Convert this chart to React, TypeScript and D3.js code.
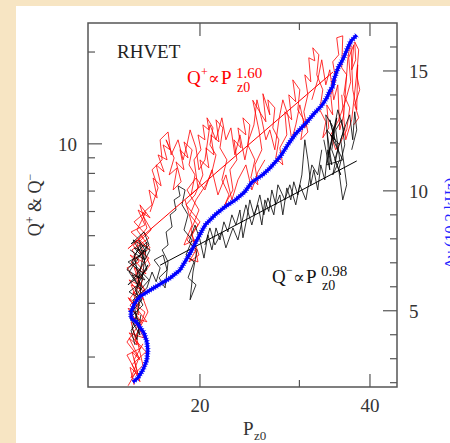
import React from "react";
import * as d3 from "d3";

// Q+ trajectory (P_z0, Q+)
const redPts: [number, number][] = [
  [15.29, 1.62], [15.04, 1.85], [15.54, 1.75], [15.16, 2.08], [15.66, 1.96], [14.98, 2.31], [15.47, 2.19],
  [15.1, 2.61], [15.79, 2.45], [14.92, 2.89], [15.6, 2.75], [15.23, 3.27], [15.92, 3.08], [14.98, 3.58],
  [15.72, 3.42], [15.29, 3.92], [16.05, 3.75], [15.04, 4.32], [15.85, 4.1], [15.41, 4.84], [16.18, 4.56],
  [15.1, 5.14], [15.98, 5.42], [15.54, 6.07], [16.32, 5.72], [15.66, 6.31], [16.11, 5.3], [15.23, 4.63],
  [16.25, 4.22], [15.35, 3.72], [15.98, 3.32], [15.04, 2.96], [15.72, 2.61], [14.85, 2.24], [15.6, 1.99],
  [15.1, 1.71], [15.85, 1.88], [15.41, 2.36], [16.18, 2.81], [15.47, 3.53], [16.32, 4.01], [15.6, 4.77],
  [16.39, 5.22], [15.79, 5.89],
  [16.45, 6.31], [16.25, 7.06], [16.8, 6.65], [16.52, 7.73], [17.07, 7.28], [16.73, 8.53], [17.28, 8.09],
  [16.86, 9.2], [17.49, 8.86], [17.21, 9.92], [17.71, 9.56], [17.42, 10.31], [18.0, 8.99], [17.64, 7.91],
  [18.22, 8.34], [17.93, 7.06], [18.52, 7.51], [18.14, 8.73], [18.74, 8.22], [18.44, 9.56], [19.05, 8.99],
  [18.74, 10.15], [19.37, 9.56], [19.13, 8.53], [19.6, 7.91], [19.29, 6.8], [19.84, 7.17], [19.52, 8.86],
  [20.08, 9.56], [19.84, 10.7], [20.41, 10.31], [20.24, 11.54], [20.74, 11.11], [20.58, 12.17], [21.09, 11.28],
  [20.83, 9.92], [21.35, 9.2], [21.0, 8.09],
  [20.49, 7.34], [19.68, 6.55], [19.21, 5.85], [19.84, 5.42], [18.97, 4.84], [19.68, 4.49], [19.13, 4.1],
  [19.92, 4.32], [19.37, 5.03], [20.0, 5.55], [18.89, 6.31], [19.6, 6.8],
  [20.24, 7.91], [20.0, 8.86], [20.74, 8.34], [20.49, 9.7], [21.17, 9.2], [20.91, 10.7], [21.61, 10.15],
  [21.35, 11.99], [21.96, 11.28], [21.7, 9.7], [22.32, 8.86], [21.87, 7.62], [22.51, 6.8], [22.14, 6.31],
  [22.88, 7.06], [22.6, 8.22], [23.25, 8.86], [22.97, 10.31], [23.64, 9.7], [23.35, 11.28], [24.12, 10.7],
  [23.83, 12.17], [24.51, 11.54], [24.31, 9.92], [25.02, 8.86], [24.61, 7.73], [25.33, 7.34], [25.02, 8.53],
  [25.74, 9.56], [25.43, 11.11], [24.8, 13.9], [25.6, 12.6], [26.17, 11.81], [25.85, 14.6], [26.59, 12.45],
  [26.38, 13.94], [27.14, 13.12], [26.92, 11.28], [27.59, 10.31], [27.25, 8.99], [28.04, 8.53], [27.7, 9.7],
  [28.5, 10.7], [28.27, 12.74], [29.08, 11.99], [28.73, 14.48], [29.56, 13.74], [29.2, 16.21], [30.05, 15.04],
  [29.8, 12.93], [30.55, 11.99], [30.17, 10.31], [31.05, 10.93],
  [30.55, 12.74], [31.05, 14.48], [30.67, 16.84], [31.43, 15.97], [31.17, 19.15], [31.94, 18.72], [31.68, 20.65],
  [32.47, 19.59], [32.2, 16.84], [33.0, 15.04], [32.6, 12.93], [33.41, 11.81], [33.0, 10.47], [33.81, 11.28],
  [33.54, 13.42], [34.37, 12.45], [34.09, 14.48], [34.79, 16.21], [34.37, 18.58], [35.22, 19.59], [34.93, 22.27],
  [35.8, 22.6], [35.65, 17.75], [36.38, 16.84], [35.95, 14.48], [36.83, 13.12], [36.38, 11.11], [35.5, 10.15],
  [34.79, 9.56], [34.09, 10.7], [35.22, 11.99], [36.24, 13.94], [36.98, 15.97], [36.68, 19.15], [37.44, 21.12],
  [37.13, 17.49], [37.74, 18.86], [37.59, 21.6], [38.2, 20.34], [37.9, 16.84], [38.36, 15.04], [37.59, 13.42],
  [38.2, 12.17], [37.44, 11.54],
];
const redSegA: [number, number][] = [
  [14.92, 1.61], [15.41, 1.79], [14.85, 2.03], [15.72, 2.14], [14.98, 2.4], [15.92, 2.31], [15.23, 2.69],
  [16.11, 2.61], [14.92, 3.13], [15.66, 2.94], [15.1, 3.45], [16.05, 3.27], [14.85, 3.92], [15.6, 4.1],
  [15.16, 4.49], [16.25, 4.91], [15.29, 5.55], [16.05, 5.98], [15.47, 5.22], [16.32, 4.56], [15.1, 4.1],
  [15.85, 3.58], [14.98, 3.08], [15.98, 2.81], [15.35, 2.28], [16.05, 2.08], [15.16, 1.89], [15.66, 1.66],
  [15.29, 1.96], [15.85, 2.21],
];
const redSegB: [number, number][] = [
  [16.32, 5.98], [16.86, 7.17], [16.45, 8.22], [17.14, 8.86], [17.0, 10.31], [17.56, 10.94], [17.78, 9.2],
  [18.29, 10.31], [18.67, 8.86], [18.97, 9.92], [19.21, 11.11], [19.68, 9.7], [19.92, 8.22], [20.41, 8.86],
  [20.83, 11.54], [21.35, 10.31], [21.87, 12.17], [22.23, 10.31], [22.69, 11.28], [23.06, 9.2], [23.54, 10.7],
  [24.02, 8.86], [24.41, 10.31], [24.92, 11.54], [25.23, 13.94], [25.74, 11.99], [26.17, 10.31], [26.59, 11.11],
  [27.14, 9.56], [27.59, 11.99], [28.04, 13.94], [28.62, 12.45], [29.08, 10.31], [29.56, 11.54], [30.05, 13.42],
  [30.67, 11.28], [31.3, 11.99],
];
const redSegC: [number, number][] = [
  [31.56, 13.94], [32.33, 16.21], [32.86, 18.86], [33.41, 15.61], [33.95, 17.49], [34.51, 13.94], [35.08, 15.61],
  [35.36, 11.11], [35.95, 12.45], [36.53, 18.86], [36.98, 21.94], [37.29, 15.04], [37.9, 12.93], [38.05, 18.16],
  [37.13, 11.99], [36.24, 10.31], [35.65, 14.48],
];
const redSegD: [number, number][] = [
  [18.82, 6.55], [19.37, 5.42], [18.74, 4.66], [19.6, 4.84], [19.05, 4.22], [19.84, 4.1], [19.29, 5.22],
  [19.92, 6.07], [18.97, 7.06], [19.68, 7.73],
  [20.41, 7.06], [21.0, 8.22], [21.52, 6.8], [22.23, 7.91], [22.78, 6.55], [23.35, 7.62], [24.12, 8.53],
  [24.71, 7.06], [25.33, 8.09], [26.06, 8.86],
];

// Q- trajectory (P_z0, Q-)
const blackPts: [number, number][] = [
  [15.35, 2.19], [15.1, 2.45], [15.6, 2.61], [15.23, 2.85], [15.79, 3.08], [14.98, 3.27], [15.54, 3.45],
  [15.16, 3.72], [15.98, 3.58], [15.41, 3.92], [14.92, 4.1], [15.72, 4.32], [15.29, 4.56], [16.05, 4.42],
  [15.6, 4.84], [15.1, 4.7], [15.92, 5.14], [16.25, 4.66], [15.47, 4.22], [14.85, 3.86], [15.66, 3.64],
  [16.18, 4.01], [15.35, 3.32], [15.85, 2.96], [15.04, 2.69], [15.66, 2.36], [15.23, 3.08], [16.11, 3.37],
  [16.45, 3.8],
  [16.73, 3.53], [17.0, 3.92], [16.59, 4.16], [17.21, 4.32], [17.49, 3.86], [16.93, 3.64], [17.35, 3.37],
  [17.56, 4.1],
  [17.14, 4.49], [17.56, 4.66], [17.42, 5.14], [17.85, 5.34], [17.71, 5.85], [18.14, 6.07], [18.0, 6.55],
  [18.44, 6.75], [18.29, 7.28], [18.82, 7.06], [18.59, 6.31],
  [19.05, 5.85], [18.74, 5.22], [19.37, 4.84], [18.89, 4.32], [19.52, 4.1], [19.05, 3.64], [19.68, 3.45],
  [19.21, 3.08], [19.44, 3.8], [19.76, 4.49], [19.13, 4.77], [19.6, 5.42],
  [20.0, 4.84], [20.33, 4.22], [20.66, 5.03], [21.0, 4.49], [21.35, 5.3], [21.7, 4.84], [22.05, 5.55],
  [22.41, 5.14], [22.78, 5.85], [23.16, 5.42], [23.54, 6.07], [23.83, 4.92], [24.22, 5.72], [24.51, 6.55],
  [24.92, 5.85], [25.33, 6.31], [25.74, 5.42], [26.06, 6.55], [26.48, 6.0], [26.81, 7.06], [27.25, 6.31],
  [27.7, 6.8], [28.04, 5.85], [28.5, 7.17], [28.97, 6.55], [29.32, 7.51], [29.8, 6.8], [30.3, 7.91],
  [30.67, 10.31], [31.05, 8.86], [31.43, 7.34], [31.81, 8.22], [32.33, 7.06], [32.73, 8.53], [33.27, 7.62],
  [33.68, 9.56],
  [34.23, 8.53], [33.54, 11.11], [34.65, 10.31], [33.95, 11.99], [35.08, 9.56], [34.37, 7.91], [35.36, 8.86],
  [34.79, 11.11], [35.65, 11.99], [36.09, 9.92], [35.22, 8.22], [35.8, 6.55], [36.38, 7.34], [35.5, 10.31],
  [36.24, 11.54], [36.83, 12.45], [37.29, 10.31], [37.59, 12.74], [37.9, 11.11], [37.13, 9.56],
];
const blackSegA: [number, number][] = [
  [15.04, 4.49], [15.98, 4.16], [15.23, 4.84], [16.32, 4.49], [15.47, 3.72], [14.92, 3.45], [16.11, 3.86],
  [15.66, 4.66], [15.16, 4.1], [16.25, 3.58], [15.41, 3.2], [15.92, 4.49], [14.98, 3.8], [15.72, 3.32],
  [15.29, 4.32], [16.11, 4.77], [15.54, 2.85], [15.16, 2.49], [15.47, 2.28], [15.72, 2.75],
];
const blackSegB: [number, number][] = [
  [20.41, 4.66], [20.83, 5.3], [21.26, 4.66], [21.87, 5.14], [22.23, 4.56], [22.88, 5.3], [23.35, 4.84],
  [23.73, 5.55], [24.12, 6.31], [24.71, 5.42], [25.12, 6.07], [25.53, 6.8], [25.95, 5.85], [26.38, 6.65],
  [27.03, 5.85], [27.48, 7.34], [28.27, 6.55], [28.85, 7.34], [29.56, 6.31], [30.05, 7.34], [30.8, 6.55],
  [31.56, 8.53], [32.33, 7.91], [32.86, 9.56],
];
const blackSegC: [number, number][] = [
  [33.14, 10.31], [33.95, 8.22], [33.41, 12.45], [34.51, 11.28], [33.81, 9.2], [34.93, 12.17], [34.23, 9.56],
  [35.5, 7.91], [34.65, 8.86], [35.95, 11.11], [35.08, 12.93], [33.54, 8.53], [35.8, 8.86], [34.09, 10.7],
  [35.36, 9.92],
];

// right-axis quantity vs P_z0
const bluePts: [number, number][] = [
  [15.22, 2.03], [15.53, 2.2], [15.85, 2.53], [16.11, 2.95], [16.17, 3.36], [16.11, 3.7], [15.92, 4.07],
  [15.66, 4.32], [15.41, 4.53], [15.1, 4.7], [15.1, 4.95], [15.28, 5.24], [15.47, 5.45], [15.72, 5.62],
  [16.32, 5.86], [17.0, 6.11], [17.7, 6.36], [18.44, 6.7], [18.89, 7.11], [19.35, 7.53], [19.84, 8.03],
  [20.41, 8.57], [21.25, 8.99], [22.1, 9.32], [23.1, 9.62], [24.0, 9.95], [24.7, 10.36], [25.8, 10.66],
  [26.6, 10.95], [27.7, 11.41], [28.6, 11.91], [29.6, 12.4], [30.8, 12.82], [31.9, 13.24], [32.9, 13.57],
  [33.6, 13.91], [34.0, 14.2], [34.4, 14.36], [34.5, 14.61], [35.1, 15.11], [35.9, 15.53], [36.5, 15.95],
  [37.0, 16.24], [37.9, 16.49],
];

// power-law fits, end points
const fitPlus: [number, number][] = [[14.91, 4.53], [34.4, 17.2]];
const fitMinus: [number, number][] = [[17.0, 4.0], [37.9, 8.79]];

const xTicks = [20, 30, 40];
const xLabels = [20, 40];
const yLeftTicks = [2, 3, 4, 5, 6, 7, 8, 9, 10, 20];
const yLeftLabels = [10];
const yRightTicks = [2, 3, 4, 5, 6, 7, 8, 9, 10, 11, 12, 13, 14, 15, 16];
const yRightLabels = [5, 10, 15];

const L = 88, R = 397, T = 23, B = 387;
const serif = "'Liberation Serif', 'DejaVu Serif', serif";

export default function App() {
  const x = d3.scaleLog().domain([12.67, 44.66]).range([L, R]);
  const yL = d3.scaleLog().domain([1.595, 24.9]).range([B, T]);
  const yR = d3.scaleLinear().domain([1.82, 17.0]).range([B, T]);

  const lineL = d3.line<[number, number]>().x((d) => x(d[0])).y((d) => yL(d[1]));
  const lineR = d3.line<[number, number]>().x((d) => x(d[0])).y((d) => yR(d[1]));

  const axisCol = "#555";
  const reds = [redPts, redSegA, redSegB, redSegC, redSegD];
  const blacks = [blackPts, blackSegA, blackSegB, blackSegC];

  return (
    <svg width={450} height={443} style={{ position: "absolute", left: 0, top: 0 }} fontFamily={serif}>
      <rect x={0} y={0} width={450} height={443} fill="#f7e5c3" />
      <rect x={16} y={6} width={434} height={437} fill="#ffffff" />

      {/* data */}
      {reds.map((s, i) => (
        <path key={"r" + i} d={lineL(s) || ""} fill="none" stroke="#ff0000" strokeWidth={0.8} strokeLinejoin="round" />
      ))}
      {blacks.map((s, i) => (
        <path key={"b" + i} d={lineL(s) || ""} fill="none" stroke="#000" strokeWidth={0.8} strokeLinejoin="round" />
      ))}
      <path d={lineL(fitPlus) || ""} fill="none" stroke="#ff0000" strokeWidth={1} />
      <path d={lineL(fitMinus) || ""} fill="none" stroke="#000" strokeWidth={1} />
      <path d={lineR(bluePts) || ""} fill="none" stroke="#0000ff" strokeWidth={3.2} strokeLinejoin="round" />
      <path d={lineR(bluePts) || ""} fill="none" stroke="#0000ff" strokeWidth={5.5} strokeDasharray="0.7 1.8" />

      {/* frame */}
      <rect x={L} y={T} width={R - L} height={B - T} fill="none" stroke={axisCol} strokeWidth={1.5} />

      {xTicks.map((t) => {
        const len = xLabels.includes(t) ? 13 : 7;
        return (
          <g key={"x" + t} stroke={axisCol} strokeWidth={1.2}>
            <line x1={x(t)} x2={x(t)} y1={B} y2={B - len} />
            <line x1={x(t)} x2={x(t)} y1={T} y2={T + len} />
          </g>
        );
      })}
      {xLabels.map((t) => (
        <text key={"xl" + t} x={x(t)} y={412} textAnchor="middle" fontSize={19} fill="#333">{t}</text>
      ))}

      {yLeftTicks.map((t) => {
        const len = yLeftLabels.includes(t) ? 14 : 7;
        return <line key={"yl" + t} x1={L} x2={L + len} y1={yL(t)} y2={yL(t)} stroke={axisCol} strokeWidth={1.2} />;
      })}
      {yLeftLabels.map((t) => (
        <text key={"yll" + t} x={77} y={yL(t) + 7} textAnchor="end" fontSize={19} fill="#333">{t}</text>
      ))}

      {yRightTicks.map((t) => {
        const len = yRightLabels.includes(t) ? 14 : 7;
        return <line key={"yr" + t} x1={R} x2={R - len} y1={yR(t)} y2={yR(t)} stroke={axisCol} strokeWidth={1.2} />;
      })}
      {yRightLabels.map((t) => (
        <text key={"yrl" + t} x={409} y={yR(t) + 7} textAnchor="start" fontSize={19} fill="#333">{t}</text>
      ))}

      {/* labels */}
      <text x={117} y={58} fontSize={19} fill="#222">RHVET</text>

      <g fill="#ff0000">
        <text x={187} y={84} fontSize={19}>Q</text>
        <text x={201} y={76} fontSize={12}>+</text>
        <text x={208} y={84} fontSize={17}>∝</text>
        <text x={221} y={84} fontSize={19}>P</text>
        <text x={236} y={78} fontSize={15}>1.60</text>
        <text x={237} y={92} fontSize={14}>z0</text>
      </g>

      <g fill="#111">
        <text x={272} y={283} fontSize={19}>Q</text>
        <text x={286} y={274} fontSize={12}>−</text>
        <text x={293} y={283} fontSize={17}>∝</text>
        <text x={306} y={283} fontSize={19}>P</text>
        <text x={321} y={276} fontSize={15}>0.98</text>
        <text x={322} y={290} fontSize={14}>z0</text>
      </g>

      <text x={243} y={435} fontSize={19} fill="#333">P</text>
      <text x={254} y={440} fontSize={13} fill="#333">z0</text>

      <text transform="translate(41,205) rotate(-90)" textAnchor="middle" fontSize={18} fill="#333">
        Q<tspan fontSize={12} dy={-7}>+</tspan><tspan dy={7}> &amp; Q</tspan><tspan fontSize={12} dy={-7}>−</tspan>
      </text>

      <text transform="translate(456,223) rotate(-90)" textAnchor="middle" fontSize={16} fill="#2222ff">
        Δν (10.2 kHz)
      </text>
    </svg>
  );
}
